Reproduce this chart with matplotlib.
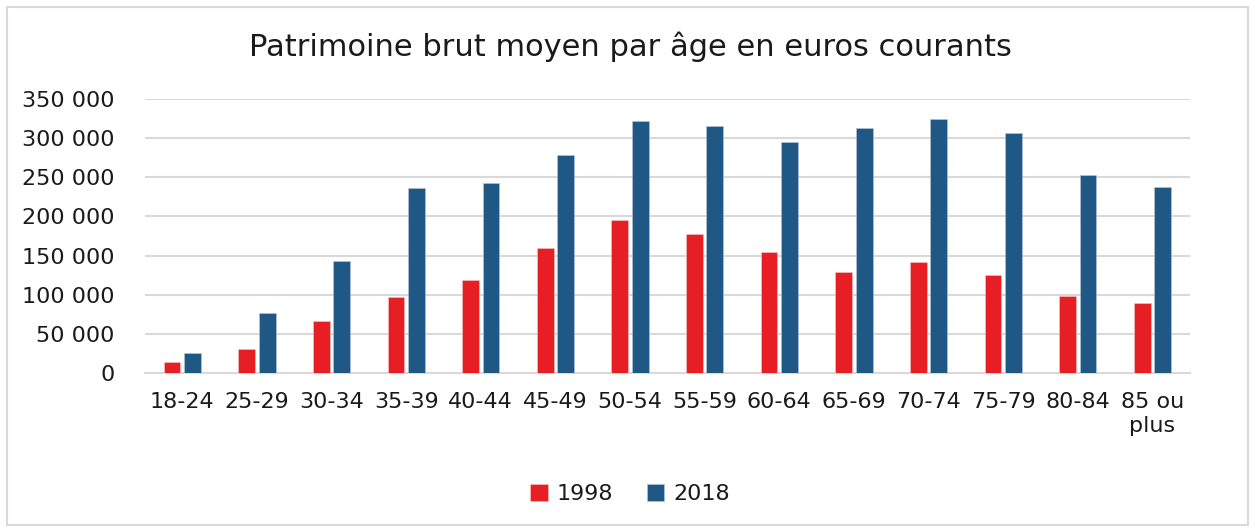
import numpy as np
import matplotlib.pyplot as plt
from matplotlib.patches import Rectangle

# Données
ages = ['18-24', '25-29', '30-34', '35-39', '40-44', '45-49', '50-54',
        '55-59', '60-64', '65-69', '70-74', '75-79', '80-84', '85 ou\nplus']
v1998 = [14000, 31000, 66500, 97500, 118500, 159500, 195000,
         177000, 154000, 129000, 141500, 124500, 98000, 89500]
v2018 = [26000, 77000, 142500, 236000, 243000, 278500, 322000,
         316000, 295500, 313000, 324000, 306500, 253000, 238000]
series = ['1998', '2018']
colors = ['#E81E25', '#1F5785']

plt.rcParams['font.family'] = ['DejaVu Sans']
text_color = '#1a1a1a'
grid_color = '#D9D9D9'

fig = plt.figure(figsize=(12.55, 5.32), dpi=100)
ax = fig.add_axes([0.1155, 0.299, 0.8325, 0.515])

x = np.arange(len(ages))
w = 0.225
off = 0.137
ax.bar(x - off, v1998, w, color=colors[0], edgecolor='#f4c6c8', linewidth=0.4, label=series[0], zorder=3)
ax.bar(x + off, v2018, w, color=colors[1], edgecolor='#b9c9d8', linewidth=0.4, label=series[1], zorder=3)

ax.set_xlim(-0.5, len(ages) - 0.5)
ax.set_ylim(0, 350000)
ax.set_yticks(np.arange(0, 350001, 50000))
ax.set_yticklabels(['0' if v == 0 else f'{v // 1000} 000' for v in range(0, 350001, 50000)])
ax.set_xticks(x)
ax.set_xticklabels(ages)

ax.tick_params(axis='both', length=0, labelsize=16, colors=text_color)
ax.tick_params(axis='y', pad=22)
ax.tick_params(axis='x', pad=14)
ax.grid(axis='y', color=grid_color, linewidth=1.5, zorder=0)
for s in ['top', 'right', 'left']:
    ax.spines[s].set_visible(False)
ax.spines['bottom'].set_color(grid_color)
ax.spines['bottom'].set_linewidth(1.5)

fig.text(0.502, 0.912, 'Patrimoine brut moyen par âge en euros courants',
         ha='center', va='center', fontsize=22, color=text_color)

fig.legend(loc='center', bbox_to_anchor=(0.502, 0.071), ncol=2, frameon=False,
           fontsize=16, handlelength=0.8, handleheight=0.8, handletextpad=0.4,
           columnspacing=1.5, labelcolor=text_color)

fig.patches.append(Rectangle((0.0056, 0.013), 0.9888, 0.974, transform=fig.transFigure,
                             fill=False, edgecolor=grid_color, linewidth=1.5))

fig.savefig('out.png', dpi=100)
